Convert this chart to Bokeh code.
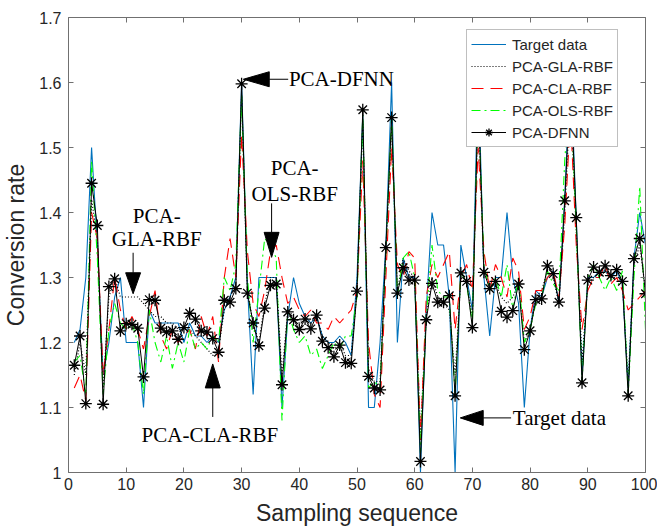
from bokeh.plotting import figure
from bokeh.models import Range1d, LinearAxis, FixedTicker, Legend, LegendItem, Label
from bokeh.embed import file_html
from bokeh.resources import INLINE

# ---------------- data ----------------
sample = list(range(1, 101))

target = [1.20, 1.22, 1.30, 1.50, 1.35, 1.15, 1.20, 1.27, 1.30, 1.20,
          1.20, 1.20, 1.10, 1.25, 1.23, 1.23, 1.23, 1.23, 1.23, 1.20,
          1.23, 1.21, 1.21, 1.20, 1.21, 1.20, 1.25, 1.27, 1.30, 1.60,
          1.29, 1.12, 1.30, 1.30, 1.30, 1.30, 1.10, 1.24, 1.30, 1.26,
          1.24, 1.23, 1.24, 1.21, 1.20, 1.20, 1.21, 1.20, 1.18, 1.30,
          1.55, 1.10, 1.10, 1.20, 1.35, 1.60, 1.20, 1.33, 1.30, 1.30,
          1.00, 1.25, 1.40, 1.35, 1.35, 1.27, 1.00, 1.35, 1.30, 1.25,
          1.62, 1.30, 1.21, 1.30, 1.30, 1.40, 1.30, 1.26, 1.10, 1.22,
          1.28, 1.27, 1.30, 1.31, 1.26, 1.42, 1.63, 1.39, 1.15, 1.30,
          1.30, 1.31, 1.31, 1.30, 1.31, 1.29, 1.13, 1.33, 1.40, 1.35]

pca_gla_rbf = [1.15, 1.20, 1.15, 1.42, 1.36, 1.13, 1.27, 1.30, 1.27, 1.27,
               1.27, 1.27, 1.26, 1.25, 1.24, 1.24, 1.23, 1.23, 1.22, 1.22,
               1.22, 1.21, 1.20, 1.19, 1.18, 1.19, 1.25, 1.27, 1.29, 1.58,
               1.28, 1.23, 1.20, 1.26, 1.30, 1.30, 1.15, 1.25, 1.24, 1.23,
               1.24, 1.23, 1.24, 1.21, 1.20, 1.19, 1.20, 1.18, 1.18, 1.28,
               1.54, 1.16, 1.14, 1.14, 1.34, 1.53, 1.28, 1.33, 1.31, 1.30,
               1.06, 1.24, 1.30, 1.27, 1.26, 1.25, 1.15, 1.30, 1.29, 1.24,
               1.56, 1.31, 1.29, 1.29, 1.27, 1.26, 1.27, 1.29, 1.20, 1.22,
               1.27, 1.28, 1.31, 1.30, 1.26, 1.40, 1.58, 1.37, 1.17, 1.29,
               1.30, 1.30, 1.31, 1.30, 1.30, 1.29, 1.14, 1.32, 1.35, 1.28]

pca_cla_rbf = [1.13, 1.15, 1.11, 1.40, 1.36, 1.15, 1.22, 1.30, 1.25, 1.22,
               1.24, 1.22, 1.19, 1.24, 1.28, 1.21, 1.19, 1.22, 1.20, 1.21,
               1.22, 1.19, 1.24, 1.21, 1.24, 1.17, 1.30, 1.36, 1.30, 1.52,
               1.34, 1.26, 1.24, 1.28, 1.34, 1.35, 1.30, 1.26, 1.27, 1.25,
               1.24, 1.25, 1.23, 1.23, 1.22, 1.24, 1.23, 1.24, 1.25, 1.28,
               1.48, 1.20, 1.12, 1.10, 1.30, 1.50, 1.32, 1.30, 1.34, 1.33,
               1.05, 1.27, 1.32, 1.30, 1.32, 1.34, 1.22, 1.30, 1.32, 1.28,
               1.50, 1.34, 1.28, 1.32, 1.30, 1.27, 1.33, 1.31, 1.22, 1.24,
               1.28, 1.28, 1.30, 1.31, 1.27, 1.38, 1.55, 1.35, 1.22, 1.28,
               1.30, 1.30, 1.32, 1.29, 1.30, 1.28, 1.25, 1.26, 1.27, 1.28]

pca_ols_rbf = [1.17, 1.18, 1.12, 1.48, 1.33, 1.12, 1.22, 1.26, 1.23, 1.22,
               1.23, 1.20, 1.12, 1.25, 1.20, 1.17, 1.21, 1.16, 1.20, 1.17,
               1.22, 1.19, 1.20, 1.19, 1.21, 1.20, 1.30, 1.28, 1.32, 1.58,
               1.30, 1.20, 1.28, 1.36, 1.35, 1.33, 1.08, 1.25, 1.22, 1.20,
               1.21, 1.18, 1.19, 1.16, 1.18, 1.20, 1.19, 1.21, 1.21, 1.27,
               1.55, 1.13, 1.14, 1.13, 1.34, 1.55, 1.27, 1.33, 1.34, 1.30,
               1.03, 1.24, 1.35, 1.28, 1.27, 1.27, 1.12, 1.31, 1.29, 1.23,
               1.58, 1.32, 1.28, 1.30, 1.27, 1.32, 1.25, 1.30, 1.20, 1.22,
               1.26, 1.27, 1.31, 1.29, 1.28, 1.48, 1.60, 1.38, 1.14, 1.30,
               1.32, 1.30, 1.28, 1.30, 1.28, 1.31, 1.12, 1.30, 1.44, 1.22]

pca_dfnn = [1.165, 1.210, 1.106, 1.445, 1.380, 1.105, 1.286, 1.298, 1.218, 1.229,
            1.228, 1.222, 1.147, 1.266, 1.265, 1.222, 1.216, 1.218, 1.205, 1.223,
            1.245, 1.236, 1.218, 1.216, 1.206, 1.185, 1.265, 1.262, 1.283, 1.598,
            1.276, 1.230, 1.195, 1.253, 1.288, 1.290, 1.135, 1.247, 1.235, 1.220,
            1.236, 1.221, 1.242, 1.202, 1.192, 1.178, 1.196, 1.169, 1.168, 1.279,
            1.558, 1.148, 1.130, 1.127, 1.346, 1.546, 1.276, 1.315, 1.296, 1.296,
            1.017, 1.235, 1.291, 1.262, 1.262, 1.272, 1.118, 1.307, 1.294, 1.223,
            1.580, 1.308, 1.283, 1.294, 1.248, 1.239, 1.249, 1.290, 1.189, 1.218,
            1.266, 1.267, 1.318, 1.306, 1.262, 1.418, 1.600, 1.392, 1.138, 1.296,
            1.316, 1.308, 1.318, 1.303, 1.312, 1.294, 1.118, 1.329, 1.360, 1.275]

series_names = ["Target data", "PCA-GLA-RBF", "PCA-CLA-RBF", "PCA-OLS-RBF", "PCA-DFNN"]

x_ticks = [0, 10, 20, 30, 40, 50, 60, 70, 80, 90, 100]
y_ticks = [1.0, 1.1, 1.2, 1.3, 1.4, 1.5, 1.6, 1.7]
y_tick_labels = ["1", "1.1", "1.2", "1.3", "1.4", "1.5", "1.6", "1.7"]

# ---------------- figure ----------------
X0, X1, Y0, Y1 = 0, 100, 1.0, 1.7
FRAME_W, FRAME_H = 579, 455

p = figure(width=657, height=531, output_backend="svg", toolbar_location=None,
           x_range=Range1d(X0, X1), y_range=Range1d(Y0, Y1),
           min_border_left=66, min_border_right=12, min_border_top=17, min_border_bottom=59,
           background_fill_color="white", border_fill_color="white")
p.grid.visible = False
p.outline_line_color = None

AXIS_COLOR = "#707070"
TEXT_COLOR = "#262626"


def style_axis(ax, show_labels):
    ax.axis_line_color = AXIS_COLOR
    ax.major_tick_line_color = AXIS_COLOR
    ax.major_tick_in = 5
    ax.major_tick_out = 0
    ax.minor_tick_line_color = None
    ax.major_label_text_font = "Liberation Sans"
    if show_labels:
        ax.major_label_text_color = TEXT_COLOR
        ax.major_label_text_font_size = "16px"
    else:
        # box side: tick marks only, no labels painted
        ax.major_label_text_color = None
        ax.major_label_text_font_size = "0px"
        ax.major_label_standoff = 0


xa = p.xaxis[0]
xa.ticker = FixedTicker(ticks=x_ticks)
style_axis(xa, True)
xa.major_label_standoff = 5
xa.axis_label = "Sampling sequence"
xa.axis_label_text_font = "Liberation Sans"
xa.axis_label_text_font_size = "23px"
xa.axis_label_text_font_style = "normal"
xa.axis_label_text_color = TEXT_COLOR
xa.axis_label_standoff = 7

ya = p.yaxis[0]
ya.ticker = FixedTicker(ticks=y_ticks)
ya.major_label_overrides = {v: s for v, s in zip(y_ticks, y_tick_labels)}
style_axis(ya, True)
ya.major_label_standoff = 7
ya.axis_label = "Conversion rate"
ya.axis_label_text_font = "Liberation Sans"
ya.axis_label_text_font_size = "23px"
ya.axis_label_text_font_style = "normal"
ya.axis_label_text_color = TEXT_COLOR
ya.axis_label_standoff = 7

top_axis = LinearAxis(ticker=FixedTicker(ticks=x_ticks))
style_axis(top_axis, False)
p.add_layout(top_axis, "above")
right_axis = LinearAxis(ticker=FixedTicker(ticks=y_ticks))
style_axis(right_axis, False)
p.add_layout(right_axis, "right")

# ---------------- series ----------------
r_t = p.line(sample, target, line_color="#0072BD", line_width=1.1)
r_g = p.line(sample, pca_gla_rbf, line_color="black", line_width=1.2, line_dash="1 2")
r_c = p.line(sample, pca_cla_rbf, line_color="#FF0000", line_width=1.1, line_dash="12 7")
r_o = p.line(sample, pca_ols_rbf, line_color="#00FF00", line_width=1.1, line_dash="9 4 2 4")
r_d = p.line(sample, pca_dfnn, line_color="black", line_width=1)
r_s = p.scatter(sample, pca_dfnn, marker="asterisk", size=12, line_color="black", line_width=1.3)

legend = Legend(items=[
    LegendItem(label=series_names[0], renderers=[r_t]),
    LegendItem(label=series_names[1], renderers=[r_g]),
    LegendItem(label=series_names[2], renderers=[r_c]),
    LegendItem(label=series_names[3], renderers=[r_o]),
    LegendItem(label=series_names[4], renderers=[r_d, r_s]),
], location=(398, 325))
legend.margin = 0
legend.padding = 4
legend.spacing = 2
legend.glyph_width = 35
legend.glyph_height = 20
legend.label_height = 20
legend.label_standoff = 6
legend.label_text_font = "Liberation Sans"
legend.label_text_font_size = "15px"
legend.label_text_color = TEXT_COLOR
legend.border_line_color = "#808080"
legend.border_line_width = 1
legend.background_fill_color = "white"
legend.background_fill_alpha = 1.0
p.add_layout(legend)

# ---------------- annotations ----------------
DX = (X1 - X0) / FRAME_W   # data units per pixel
DY = (Y1 - Y0) / FRAME_H


def arrow(tip_x, tip_y, direction, total_px, head_len=24, head_w=15):
    hw = head_w / 2.0
    if direction == "left":
        bx, tx = tip_x + head_len * DX, tip_x + total_px * DX
        p.line([bx, tx], [tip_y, tip_y], line_color="black", line_width=1)
        p.patch([tip_x, bx, bx], [tip_y, tip_y + hw * DY, tip_y - hw * DY],
                fill_color="black", line_color="black")
    elif direction == "down":
        by, ty = tip_y + head_len * DY, tip_y + total_px * DY
        p.line([tip_x, tip_x], [by, ty], line_color="black", line_width=1)
        p.patch([tip_x, tip_x - hw * DX, tip_x + hw * DX], [tip_y, by, by],
                fill_color="black", line_color="black")
    elif direction == "up":
        by, ty = tip_y - head_len * DY, tip_y - total_px * DY
        p.line([tip_x, tip_x], [by, ty], line_color="black", line_width=1)
        p.patch([tip_x, tip_x - hw * DX, tip_x + hw * DX], [tip_y, by, by],
                fill_color="black", line_color="black")


def note(x, y, text, align="center"):
    p.add_layout(Label(x=x, y=y, text=text, text_font="Liberation Serif",
                       text_font_size="21px", text_color="black",
                       text_align=align, text_baseline="middle"))


arrow(30.3, 1.605, "left", 45, head_len=26)
note(38.2, 1.605, "PCA-DFNN", "left")

arrow(11.2, 1.275, "down", 41, head_len=21)
note(15.3, 1.395, "PCA-")
note(15.3, 1.360, "GLA-RBF")

arrow(35.2, 1.331, "down", 54, head_len=25)
note(39.2, 1.469, "PCA-")
note(39.2, 1.429, "OLS-RBF")

arrow(25.0, 1.167, "up", 53, head_len=24)
note(24.5, 1.057, "PCA-CLA-RBF")

arrow(67.9, 1.084, "left", 51, head_len=23)
note(77.0, 1.084, "Target data", "left")

open("out.html", "w").write(file_html(p, INLINE))
